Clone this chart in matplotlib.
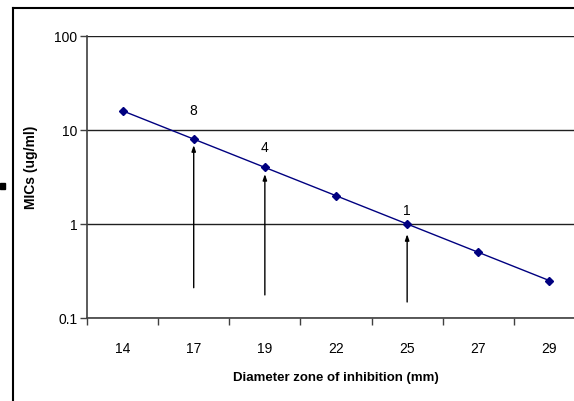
import matplotlib
matplotlib.use('Agg')
import matplotlib.pyplot as plt
from matplotlib.lines import Line2D
from matplotlib.patches import Rectangle

plt.rcParams['font.family'] = ['Liberation Sans', 'DejaVu Sans']

# data
zones = ['14', '17', '19', '22', '25', '27', '29']
mics = [16, 8, 4, 2, 1, 0.5, 0.25]

# arrows marking the breakpoints: category index, base and tip value
arrow_idx = [1, 2, 4]
arrow_base = [0.21, 0.176, 0.148]
arrow_tip = [6.9, 3.4, 0.78]
label_text = ['8', '4', '1']
label_y = [15.9, 6.4, 1.37]

fig = plt.figure(figsize=(5.74, 4.01), dpi=100)
ax = fig.add_axes([87 / 574, 1 - 318 / 401, 498 / 574, 282 / 401])

x = list(range(len(zones)))
ax.plot(x, mics, color='#000080', lw=1, marker='D', ms=4,
        markerfacecolor='#000080', markeredgecolor='#000080', zorder=3)

for i, b, t in zip(arrow_idx, arrow_base, arrow_tip):
    ax.annotate('', xy=(i, t), xytext=(i, b),
                arrowprops=dict(arrowstyle='-|>,head_length=0.35,head_width=0.12',
                                color='black', lw=1, shrinkA=0, shrinkB=0))
for i, s, yl in zip(arrow_idx, label_text, label_y):
    ax.text(i, yl, s, ha='center', va='center', fontsize=10)

ax.set_yscale('log')
ax.set_ylim(0.1, 100)
ax.set_xlim(-0.5, len(zones) - 0.5)
ax.set_yticks([0.1, 1, 10, 100])
ax.set_yticklabels(['0.1', '1', '10', '100'])
ax.yaxis.set_minor_locator(matplotlib.ticker.NullLocator())
ax.set_xticks([i - 0.5 for i in range(len(zones) + 1)])
ax.set_xticklabels([])
ax.set_xticks(x, minor=True)
ax.set_xticklabels(zones, minor=True)
ax.tick_params(axis='x', which='minor', length=0, pad=17, labelsize=10)
ax.tick_params(axis='x', which='major', length=5, width=1, color='#404040')
ax.tick_params(axis='y', which='major', length=5, width=1, color='#404040',
               labelsize=10, pad=2)

ax.grid(True, axis='y', which='major', color='#202020', lw=1)
ax.spines['top'].set_visible(False)
ax.spines['right'].set_visible(False)
for s in ('left', 'bottom'):
    ax.spines[s].set_color('#404040')
    ax.spines[s].set_linewidth(1.2)

ax.set_ylabel('MICs (ug/ml)', fontsize=10, fontweight='bold')
ax.yaxis.set_label_coords(-49 / 498, 0.535)
ax.set_xlabel('Diameter zone of inhibition (mm)', fontsize=9.5,
              fontweight='bold', labelpad=12)

# outer chart frame and stray marker seen in the reference
fig.add_artist(Line2D([13 / 574, 13 / 574], [0, 1 - 8 / 401],
                      color='black', lw=1.5))
fig.add_artist(Line2D([13 / 574, 1], [1 - 8 / 401, 1 - 8 / 401],
                      color='black', lw=1.5))
fig.add_artist(Rectangle((0, 1 - 189 / 401), 5 / 574, 6 / 401,
                         color='black', transform=fig.transFigure))

fig.savefig('out.png', dpi=100)
